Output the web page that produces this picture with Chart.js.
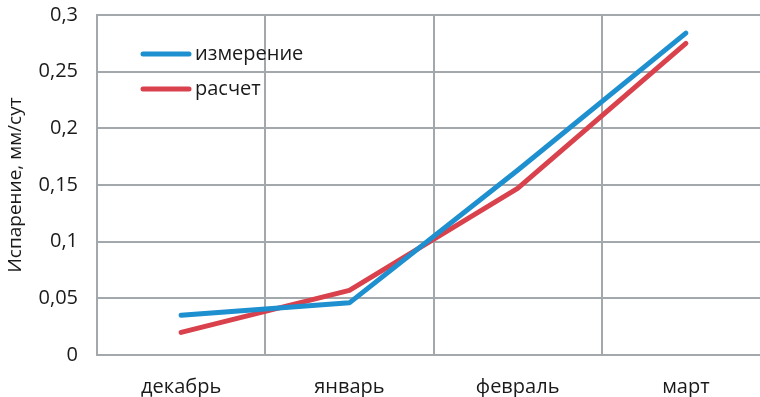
<!DOCTYPE html>
<html>
<head>
<meta charset="utf-8">
<script src="https://cdn.jsdelivr.net/npm/chart.js@4/dist/chart.umd.min.js"></script>
<style>
  html, body { margin: 0; padding: 0; background: #fff; overflow: hidden; width: 760px; height: 397px; }
  #wrap { position: relative; width: 770px; height: 397px; }
</style>
</head>
<body>
<div id="wrap"><canvas id="c" width="770" height="397"></canvas></div>
<script>
// Monthly evaporation, mm/day
const months = ['декабрь', 'январь', 'февраль', 'март'];
const measured = [0.035, 0.046, 0.163, 0.284];
const computed = [0.020, 0.057, 0.147, 0.275];
const seriesNames = ['измерение', 'расчет'];
const yTicks = [0, 0.05, 0.1, 0.15, 0.2, 0.25, 0.3];

const FONT = "'Open Sans', 'DejaVu Sans', sans-serif";
const TEXT = '#1a1a1a';
const BLUE = '#1e8fcf';
const RED = '#d9414c';
const GRID = '#a3a8ac';

// Legend drawn inside the plot area, top-left
const innerLegend = {
  id: 'innerLegend',
  afterDatasetsDraw(chart) {
    const ctx = chart.ctx;
    const x0 = chart.chartArea.left + 46;
    const rows = [54, 89];
    chart.data.datasets.forEach((ds, i) => {
      const y = rows[i];
      ctx.save();
      ctx.strokeStyle = ds.borderColor;
      ctx.lineWidth = 5;
      ctx.lineCap = 'round';
      ctx.beginPath();
      ctx.moveTo(x0, y);
      ctx.lineTo(x0 + 46, y);
      ctx.stroke();
      ctx.fillStyle = TEXT;
      ctx.font = '20px ' + FONT;
      ctx.textBaseline = 'middle';
      ctx.textAlign = 'left';
      ctx.fillText(ds.label, x0 + 52, y);
      ctx.restore();
    });
  }
};

new Chart(document.getElementById('c'), {
  type: 'line',
  data: {
    labels: months,
    datasets: [
      { label: seriesNames[0], data: measured, borderColor: BLUE, backgroundColor: BLUE,
        borderWidth: 5, pointRadius: 0, tension: 0, borderCapStyle: 'round', borderJoinStyle: 'round' },
      { label: seriesNames[1], data: computed, borderColor: RED, backgroundColor: RED,
        borderWidth: 5, pointRadius: 0, tension: 0, borderCapStyle: 'round', borderJoinStyle: 'round' }
    ]
  },
  options: {
    responsive: false,
    animation: false,
    devicePixelRatio: 1,
    layout: { padding: { left: 0, right: 0, top: 15, bottom: 0 } },
    plugins: { legend: { display: false }, tooltip: { enabled: false } },
    scales: {
      x: {
        type: 'category',
        offset: true,
        grid: { offset: true, color: GRID, lineWidth: 2, drawTicks: false },
        border: { color: GRID, width: 2 },
        ticks: { color: TEXT, font: { family: FONT, size: 20 }, padding: 20 },
        afterFit(s) { s.height = 42; s.paddingLeft = 0; s.paddingRight = 0; }
      },
      y: {
        min: 0, max: 0.3,
        afterBuildTicks(s) { s.ticks = yTicks.map(v => ({ value: v })); },
        grid: { color: GRID, lineWidth: 2, drawTicks: false },
        border: { color: GRID, width: 2 },
        ticks: {
          color: TEXT, font: { family: FONT, size: 20 }, padding: 19,
          callback: v => String(v).replace('.', ',')
        },
        title: {
          display: true, text: 'Испарение, мм/сут', color: TEXT,
          font: { family: FONT, size: 19 }, padding: { top: 4, bottom: 0 }
        },
        afterFit(s) { s.width = 97; s.paddingTop = 0; s.paddingBottom = 0; }
      }
    }
  },
  plugins: [innerLegend]
});
</script>
</body>
</html>
